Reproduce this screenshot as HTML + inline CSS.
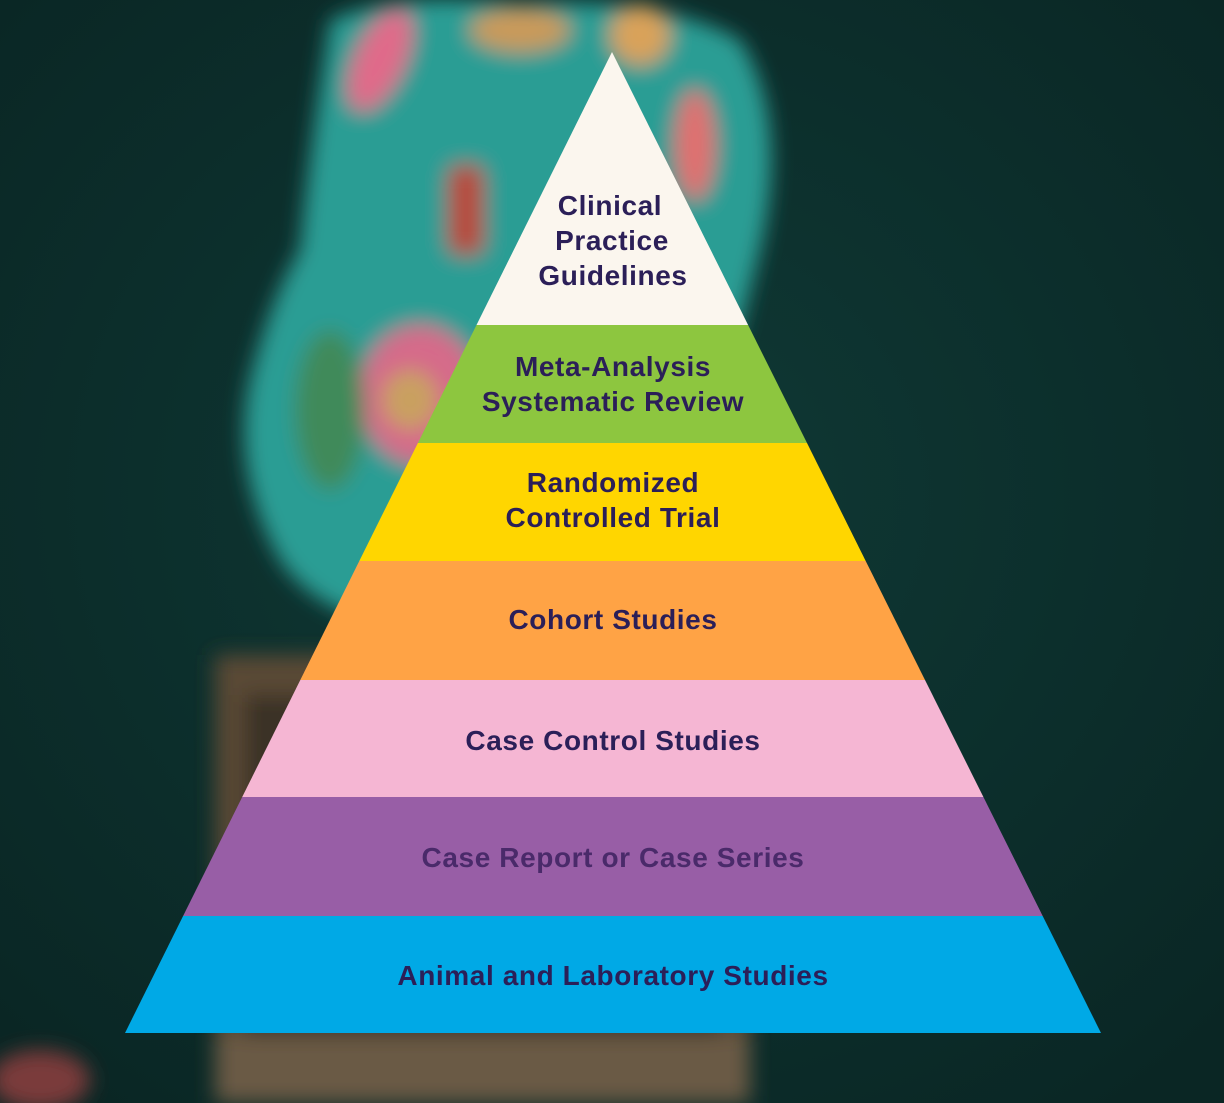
<!DOCTYPE html>
<html><head><meta charset="utf-8"><style>
html,body{margin:0;padding:0;background:#0c2f2c;}
svg{display:block}
text{font-family:"Liberation Sans",sans-serif;font-weight:bold;font-size:28px;letter-spacing:0.6px;fill:#2b1f58;text-anchor:middle}
</style></head><body>
<svg width="1224" height="1103" viewBox="0 0 1224 1103" xmlns="http://www.w3.org/2000/svg">
<defs>
<filter id="b" x="-20%" y="-20%" width="140%" height="140%"><feGaussianBlur stdDeviation="10"/></filter>
<radialGradient id="bg" cx="50%" cy="45%" r="70%"><stop offset="0" stop-color="#0f3a36"/><stop offset="1" stop-color="#0a2624"/></radialGradient>
</defs>
<rect width="1224" height="1103" fill="url(#bg)"/>
<g filter="url(#b)">
<path d="M330 20 Q400 -10 520 5 Q660 -5 740 40 Q790 120 760 250 Q740 330 730 360 L700 620 Q600 650 420 630 Q320 620 280 560 Q230 470 250 380 Q270 300 300 250 Q310 150 330 20Z" fill="#2a9d94"/>
<ellipse cx="380" cy="60" rx="25" ry="55" fill="#e06a8a" transform="rotate(25 380 60)"/>
<ellipse cx="640" cy="35" rx="30" ry="30" fill="#d9a25a"/>
<ellipse cx="520" cy="30" rx="50" ry="22" fill="#c99a5a"/>
<ellipse cx="695" cy="145" rx="20" ry="55" fill="#e07070"/>
<rect x="448" y="165" width="36" height="90" rx="12" fill="#b84a3a"/>
<ellipse cx="420" cy="395" rx="60" ry="70" fill="#d56a8a"/>
<ellipse cx="410" cy="400" rx="28" ry="30" fill="#c9a060"/>
<ellipse cx="330" cy="410" rx="35" ry="80" fill="#3f8a5a"/>
<rect x="215" y="655" width="535" height="448" fill="#5a4a36"/>
<rect x="245" y="695" width="475" height="408" fill="#3a3328"/>
<rect x="215" y="1035" width="535" height="68" fill="#6a5a44"/>
<ellipse cx="40" cy="1080" rx="50" ry="30" fill="#7a3a3a"/>
</g>
<polygon points="612,52 748.1,325 476.5,325" fill="#fbf6ee"/>
<polygon points="476.5,325 748.1,325 807,443 417.9,443" fill="#8dc63f"/>
<polygon points="417.9,443 807,443 865.7,561 359.3,561" fill="#ffd600"/>
<polygon points="359.3,561 865.7,561 925,680 300.3,680" fill="#ffa345"/>
<polygon points="300.3,680 925,680 983.4,797 242.2,797" fill="#f5b6d3"/>
<polygon points="242.2,797 983.4,797 1042.7,916 183.1,916" fill="#985ea6"/>
<polygon points="183.1,916 1042.7,916 1101,1033 125,1033" fill="#00a9e6"/>
<text x="610" y="215">Clinical</text>
<text x="612" y="250">Practice</text>
<text x="613" y="285">Guidelines</text>
<text x="613" y="376">Meta-Analysis</text>
<text x="613" y="411">Systematic Review</text>
<text x="613" y="492">Randomized</text>
<text x="613" y="527">Controlled Trial</text>
<text x="613" y="629">Cohort Studies</text>
<text x="613" y="750">Case Control Studies</text>
<text x="613" y="867" style="fill:#4a2a6a">Case Report or Case Series</text>
<text x="613" y="985">Animal and Laboratory Studies</text>
</svg>
</body></html>
